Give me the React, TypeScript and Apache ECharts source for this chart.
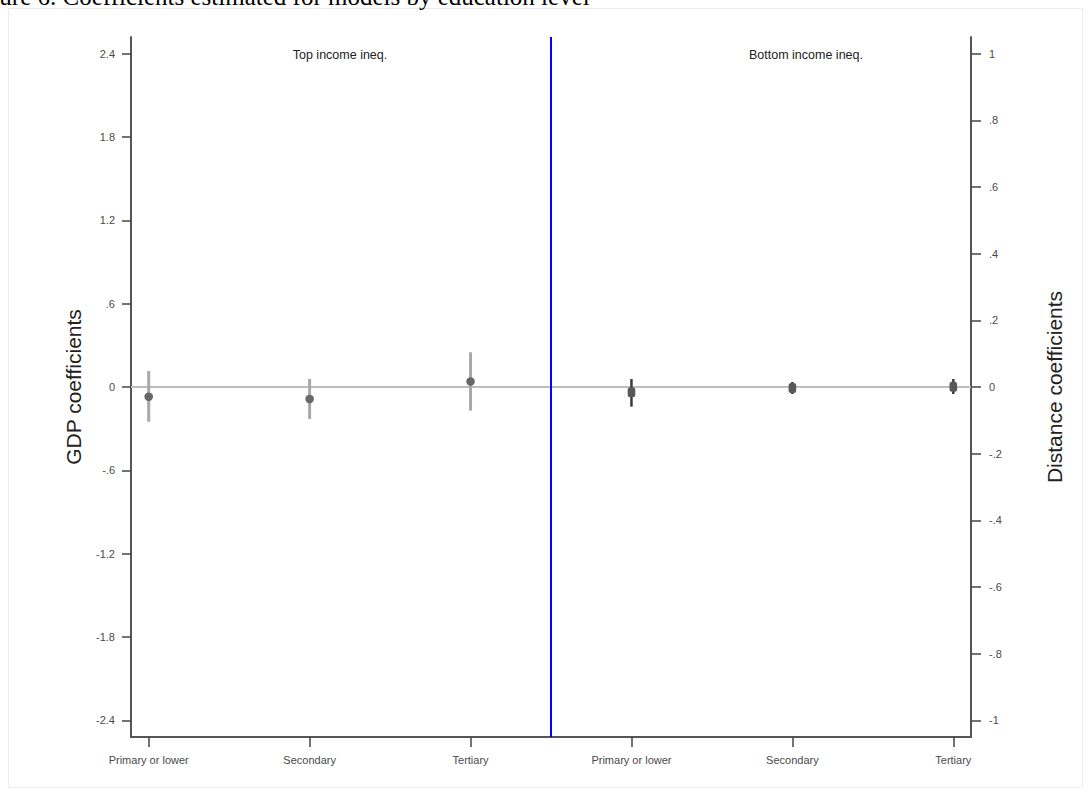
import React, { useEffect, useRef } from "react";
import * as echarts from "echarts";

const categories = ["Primary or lower", "Secondary", "Tertiary", "Primary or lower", "Secondary", "Tertiary"];
const panelLabels = ["Top income ineq.", "Bottom income ineq."];
const gdpTicks = [-2.4, -1.8, -1.2, -0.6, 0, 0.6, 1.2, 1.8, 2.4];
const distTicks = [-1, -0.8, -0.6, -0.4, -0.2, 0, 0.2, 0.4, 0.6, 0.8, 1];

// Top income inequality (GDP coefficients, left axis)
const topPoint = [-0.07, -0.086, 0.04];
const topLow = [-0.25, -0.23, -0.17];
const topHigh = [0.115, 0.058, 0.25];

// Bottom income inequality (Distance coefficients, right axis)
const bottomPoint = [-0.016, -0.003, 0.001];
const bottomLow = [-0.059, -0.021, -0.021];
const bottomHigh = [0.024, 0.015, 0.024];

const FONT = '"Liberation Sans", Arial, sans-serif';

function stataFmt(v: number): string {
  const r = Math.round(v * 10) / 10;
  if (r === 0) return "0";
  let s = String(r);
  s = s.replace(/^0\./, ".").replace(/^-0\./, "-.");
  return s;
}

export default function App() {
  const ref = useRef<HTMLDivElement>(null);
  useEffect(() => {
    if (!ref.current) return;
    const chart = echarts.init(ref.current, undefined, { renderer: "svg" });
    const xPos = categories.map((_, i) => i + 1);
    const topData = topPoint.map((v, i) => [xPos[i], v, topLow[i], topHigh[i]]);
    const botData = bottomPoint.map((v, i) => [xPos[i + 3], v, bottomLow[i], bottomHigh[i]]);

    const axisLineStyle = { color: "#555", width: 2 };
    const labelStyle = { color: "#4a4a4a", fontSize: 11, fontFamily: FONT };

    chart.setOption({
      animation: false,
      backgroundColor: "#fff",
      grid: { left: 131, right: 120, top: 37, bottom: 59, containLabel: false },
      xAxis: {
        type: "value",
        min: 0.89,
        max: 6.11,
        splitLine: { show: false },
        axisLine: { show: true, onZero: false, lineStyle: axisLineStyle },
        axisTick: { show: true, length: 10, customValues: xPos, lineStyle: { color: "#444", width: 1.5 } },
        axisLabel: {
          ...labelStyle,
          margin: 17,
          customValues: xPos,
          formatter: (v: number) => categories[Math.round(v) - 1] ?? "",
        },
      },
      yAxis: [
        {
          type: "value",
          position: "left",
          min: -2.52,
          max: 2.52,
          splitLine: { show: false },
          axisLine: { show: true, lineStyle: axisLineStyle },
          axisTick: { show: true, length: 9, customValues: gdpTicks, lineStyle: { color: "#444", width: 1.5 } },
          axisLabel: { ...labelStyle, margin: 16, customValues: gdpTicks, formatter: (v: number) => stataFmt(v) },
        },
        {
          type: "value",
          position: "right",
          min: -1.05,
          max: 1.05,
          splitLine: { show: false },
          axisLine: { show: true, lineStyle: axisLineStyle },
          axisTick: { show: true, length: 10, customValues: distTicks, lineStyle: { color: "#444", width: 1.5 } },
          axisLabel: { ...labelStyle, margin: 18, customValues: distTicks, formatter: (v: number) => stataFmt(v) },
        },
      ],
      graphic: [
        {
          type: "rect",
          silent: true,
          shape: { x: 8.5, y: 8.5, width: 1074, height: 779 },
          style: { fill: "none", stroke: "#ececec", lineWidth: 1 },
          z: -1,
        },
        {
          type: "text",
          silent: true,
          style: {
            x: -34,
            y: -4,
            text: "Figure 6. Coefficients estimated for models by education level",
            font: '25px "Liberation Serif", "Times New Roman", serif',
            fill: "#000",
            textVerticalAlign: "middle",
          },
        },
        {
          type: "text",
          silent: true,
          style: { x: 340, y: 55, text: panelLabels[0], font: `12.5px ${FONT}`, fill: "#222", textAlign: "center", textVerticalAlign: "middle" },
        },
        {
          type: "text",
          silent: true,
          style: { x: 806, y: 55, text: panelLabels[1], font: `12.5px ${FONT}`, fill: "#222", textAlign: "center", textVerticalAlign: "middle" },
        },
        {
          type: "text",
          silent: true,
          rotation: Math.PI / 2,
          x: 73,
          y: 387,
          style: { x: 0, y: 0, text: "GDP coefficients", font: `21px ${FONT}`, fill: "#222", textAlign: "center", textVerticalAlign: "middle" },
        },
        {
          type: "text",
          silent: true,
          rotation: Math.PI / 2,
          x: 1054,
          y: 387,
          style: { x: 0, y: 0, text: "Distance coefficients", font: `21px ${FONT}`, fill: "#222", textAlign: "center", textVerticalAlign: "middle" },
        },
      ],
      series: [
        {
          type: "line",
          data: [],
          z: 1,
          markLine: {
            silent: true,
            symbol: "none",
            label: { show: false },
            data: [
              { yAxis: 0, lineStyle: { color: "#bdbdbd", width: 2, type: "solid" } },
              { xAxis: 3.5, lineStyle: { color: "#0000ff", width: 2, type: "solid" } },
            ],
          },
        },
        {
          type: "custom",
          yAxisIndex: 0,
          z: 5,
          data: topData,
          encode: { x: 0, y: [1, 2, 3] },
          renderItem: (params: any, api: any) => {
            const x = api.value(0);
            const p = api.coord([x, api.value(1)]);
            const pl = api.coord([x, api.value(2)]);
            const ph = api.coord([x, api.value(3)]);
            return {
              type: "group",
              children: [
                { type: "line", shape: { x1: pl[0], y1: pl[1], x2: ph[0], y2: ph[1] }, style: { stroke: "#a8a8a8", lineWidth: 3 } },
                { type: "circle", shape: { cx: p[0], cy: p[1], r: 4.3 }, style: { fill: "#686868" } },
              ],
            };
          },
        },
        {
          type: "custom",
          yAxisIndex: 1,
          z: 5,
          data: botData,
          encode: { x: 0, y: [1, 2, 3] },
          renderItem: (params: any, api: any) => {
            const x = api.value(0);
            const p = api.coord([x, api.value(1)]);
            const pl = api.coord([x, api.value(2)]);
            const ph = api.coord([x, api.value(3)]);
            return {
              type: "group",
              children: [
                { type: "line", shape: { x1: pl[0], y1: pl[1], x2: ph[0], y2: ph[1] }, style: { stroke: "#3a3a3a", lineWidth: 2.5 } },
                { type: "rect", shape: { x: p[0] - 3.8, y: p[1] - 5, width: 7.6, height: 10, r: 2.5 }, style: { fill: "#585858" } },
              ],
            };
          },
        },
      ],
    });
    return () => chart.dispose();
  }, []);
  return (
    <div
      ref={ref}
      style={{ position: "fixed", left: 0, top: 0, width: 1091, height: 796, background: "#fff" }}
    />
  );
}
